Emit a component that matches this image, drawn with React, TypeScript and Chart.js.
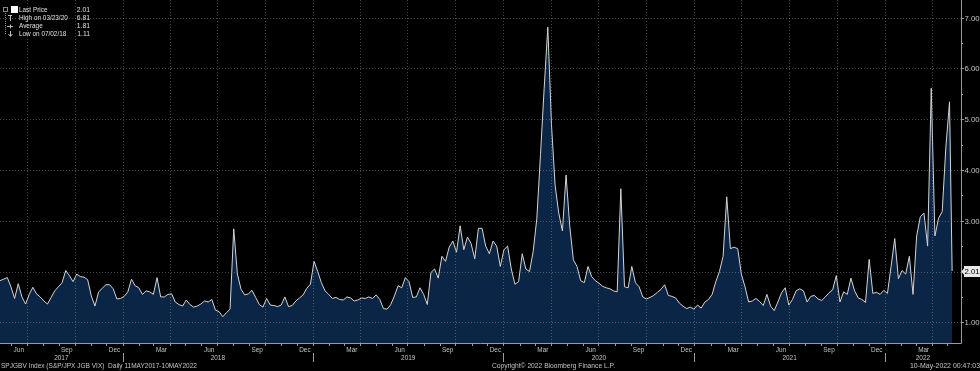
import React, { useEffect, useRef } from 'react';
import { Chart, registerables } from 'chart.js';

Chart.register(...registerables);

// ---------- data (weekly closes, starting 11 May 2017) ----------
const seriesStart = '2017-05-11';
const weeklyValues: number[] = [
  1.82, 1.85, 1.88, 1.70, 1.47, 1.76, 1.50, 1.36, 1.55, 1.69,
  1.56, 1.50, 1.42, 1.36, 1.49, 1.62, 1.70, 1.78, 2.02, 1.92,
  1.80, 1.95, 1.90, 1.89, 1.84, 1.52, 1.32, 1.60, 1.67, 1.74,
  1.74, 1.66, 1.46, 1.47, 1.51, 1.60, 1.85, 1.72, 1.68, 1.55,
  1.62, 1.60, 1.55, 1.88, 1.50, 1.50, 1.55, 1.56, 1.40, 1.35,
  1.32, 1.44, 1.35, 1.30, 1.32, 1.36, 1.42, 1.40, 1.45, 1.24,
  1.21, 1.11, 1.19, 1.26, 2.84, 1.95, 1.65, 1.54, 1.56, 1.63,
  1.49, 1.35, 1.30, 1.47, 1.34, 1.33, 1.31, 1.34, 1.50, 1.31,
  1.33, 1.42, 1.48, 1.54, 1.67, 1.75, 2.20, 2.00, 1.78, 1.62,
  1.55, 1.47, 1.49, 1.45, 1.44, 1.50, 1.48, 1.42, 1.44, 1.48,
  1.47, 1.50, 1.47, 1.54, 1.45, 1.27, 1.26, 1.35, 1.52, 1.72,
  1.68, 1.88, 1.80, 1.49, 1.50, 1.68, 1.55, 1.35, 1.98, 2.05,
  1.87, 2.30, 2.20, 2.48, 2.60, 2.38, 2.90, 2.43, 2.68, 2.55,
  2.25, 2.85, 2.85, 2.50, 2.35, 2.60, 2.50, 2.10, 2.43, 2.50,
  2.05, 1.75, 1.80, 2.35, 2.05, 2.00, 2.40, 3.05, 4.30, 5.60,
  6.81, 4.90, 3.70, 3.15, 2.80, 3.90, 2.90, 2.23, 2.10, 1.82,
  1.78, 2.10, 1.90, 1.82, 1.77, 1.71, 1.68, 1.66, 1.62, 1.60,
  3.63, 1.70, 1.68, 2.10, 1.78, 1.70, 1.50, 1.46, 1.49, 1.53,
  1.59, 1.65, 1.74, 1.53, 1.51, 1.48, 1.38, 1.32, 1.27, 1.30,
  1.26, 1.34, 1.28, 1.40, 1.45, 1.55, 1.80, 2.00, 2.30, 3.47,
  2.45, 2.48, 2.45, 1.95, 1.70, 1.40, 1.42, 1.47, 1.41, 1.33,
  1.55, 1.32, 1.23, 1.40, 1.58, 1.68, 1.34, 1.45, 1.62, 1.66,
  1.62, 1.40, 1.51, 1.53, 1.46, 1.43, 1.50, 1.58, 1.64, 1.92,
  1.40, 1.60, 1.55, 1.87, 1.62, 1.48, 1.45, 1.39, 2.24, 1.57,
  1.59, 1.55, 1.63, 1.57, 2.10, 2.65, 1.86, 2.02, 1.95, 2.30,
  1.55, 2.70, 3.08, 3.15, 2.50, 5.61, 2.70, 3.05, 3.18, 4.45,
  5.34,
];
const lastDate = '2022-05-10';
const lastPrice = 2.01;

const yTickValues = [1, 2, 3, 4, 5, 6, 7];
const yMinorValues = [1.5, 2.5, 3.5, 4.5, 5.5, 6.5];
const yMin = 0.593;
const yMax = 7.345;
const xMaxDate = '2022-05-27';

const monthLabels = ['Jan', 'Feb', 'Mar', 'Apr', 'May', 'Jun', 'Jul', 'Aug', 'Sep', 'Oct', 'Nov', 'Dec'];
const labelledMonths = [2, 5, 8, 11]; // Mar, Jun, Sep, Dec
const years = [2017, 2018, 2019, 2020, 2021, 2022];

const legendRows = [
  { label: 'Last Price', value: '2.01' },
  { label: 'High on 03/23/20', value: '6.81' },
  { label: 'Average', value: '1.81' },
  { label: 'Low on 07/02/18', value: '1.11' },
];
const footerLeft = 'SPJGBV Index (S&P/JPX JGB VIX)  Daily 11MAY2017-10MAY2022';
const footerCenter = 'Copyright\u00A9 2022 Bloomberg Finance L.P.';
const footerRight = '10-May-2022 00:47:03';

// ---------- helpers ----------
const DAY_MS = 86400000;
const startMs = Date.parse(seriesStart + 'T00:00:00Z');
const dayOf = (iso: string) => (Date.parse(iso + 'T00:00:00Z') - startMs) / DAY_MS;
const dayOfYMD = (y: number, m: number, d: number) => (Date.UTC(y, m, d) - startMs) / DAY_MS;

const FAMILY = '"Liberation Sans", Arial, sans-serif';
const TXT = '#c4c4c4';

// draw text horizontally condensed (Bloomberg terminal font is narrow)
function condText(ctx: CanvasRenderingContext2D, text: string, x: number, y: number, sx: number, align: CanvasTextAlign) {
  ctx.save();
  ctx.translate(x, y);
  ctx.scale(sx, 1);
  ctx.textAlign = align;
  ctx.fillText(text, 0, 0);
  ctx.restore();
}
// draw text squeezed to a given width
function fitText(ctx: CanvasRenderingContext2D, text: string, x: number, y: number, width: number, align: CanvasTextAlign) {
  const w = ctx.measureText(text).width;
  condText(ctx, text, x, y, Math.min(1, width / w), align);
}

const bbgPlugin = {
  id: 'bbgDecor',
  beforeDraw(chart: any) {
    const ctx = chart.ctx;
    ctx.save();
    ctx.fillStyle = '#000000';
    ctx.fillRect(0, 0, chart.width, chart.height);
    ctx.restore();
  },
  afterDatasetsDraw(chart: any) {
    const ctx = chart.ctx;
    const { left, right, top, bottom } = chart.chartArea;
    const xs = chart.scales.x;
    const ys = chart.scales.y;
    const endDay = xs.max;
    ctx.save();
    ctx.strokeStyle = 'rgba(150,150,150,0.45)';
    ctx.lineWidth = 1;
    ctx.setLineDash([1, 2]);
    yTickValues.forEach((v) => {
      const py = Math.round(ys.getPixelForValue(v)) + 0.5;
      ctx.beginPath();
      ctx.moveTo(left, py);
      ctx.lineTo(right, py);
      ctx.stroke();
    });
    years.forEach((y) => {
      [0, 3, 6, 9].forEach((m) => {
        const d = dayOfYMD(y, m, 1);
        if (d <= 0 || d >= endDay) return;
        const px = Math.round(xs.getPixelForValue(d)) + 0.5;
        ctx.beginPath();
        ctx.moveTo(px, top);
        ctx.lineTo(px, bottom);
        ctx.stroke();
      });
    });
    ctx.restore();
  },
  afterDraw(chart: any) {
    const ctx = chart.ctx;
    const { left, right, top, bottom } = chart.chartArea;
    const xs = chart.scales.x;
    const ys = chart.scales.y;
    const endDay = xs.max;
    ctx.save();
    // axis lines
    ctx.strokeStyle = '#9a9a9a';
    ctx.lineWidth = 1;
    ctx.beginPath();
    ctx.moveTo(right + 0.5, top);
    ctx.lineTo(right + 0.5, bottom + 0.5);
    ctx.lineTo(left, bottom + 0.5);
    ctx.stroke();

    // right axis ticks & labels
    ctx.font = '7.8px ' + FAMILY;
    ctx.fillStyle = TXT;
    ctx.textAlign = 'left';
    ctx.textBaseline = 'middle';
    yTickValues.forEach((v) => {
      const py = Math.round(ys.getPixelForValue(v)) + 0.5;
      ctx.beginPath();
      ctx.moveTo(right, py);
      ctx.lineTo(right + 3, py);
      ctx.stroke();
      ctx.fillText(v.toFixed(2), right + 3.5, py + 0.5);
    });
    yMinorValues.forEach((v) => {
      const py = Math.round(ys.getPixelForValue(v)) + 0.5;
      ctx.beginPath();
      ctx.moveTo(right, py);
      ctx.lineTo(right + 2, py);
      ctx.stroke();
    });
    // last price marker
    const lp = Math.round(ys.getPixelForValue(lastPrice)) + 0.5;
    ctx.fillStyle = '#e8e8e8';
    ctx.fillRect(right + 3, lp - 5.5, 17, 11);
    ctx.beginPath();
    ctx.moveTo(right + 0.5, lp);
    ctx.lineTo(right + 3.5, lp - 4);
    ctx.lineTo(right + 3.5, lp + 4);
    ctx.closePath();
    ctx.fill();
    ctx.fillStyle = '#000';
    ctx.fillText(lastPrice.toFixed(2), right + 3.5, lp + 0.5);

    // bottom axis: month ticks, labels, year labels, separators
    ctx.font = '7px ' + FAMILY;
    ctx.fillStyle = TXT;
    ctx.textAlign = 'center';
    ctx.textBaseline = 'middle';
    years.forEach((y) => {
      for (let m = 0; m < 12; m++) {
        const d0 = dayOfYMD(y, m, 1);
        const d1 = dayOfYMD(y, m + 1, 1);
        if (d0 > 0 && d0 < endDay) {
          const px = Math.round(xs.getPixelForValue(d0)) + 0.5;
          ctx.beginPath();
          ctx.moveTo(px, bottom + 1);
          ctx.lineTo(px, bottom + 3);
          ctx.stroke();
        }
        if (labelledMonths.includes(m) && d0 >= 0 && d1 <= endDay + 20) {
          const mid = xs.getPixelForValue((d0 + d1) / 2);
          condText(ctx, monthLabels[m], mid, bottom + 7, 0.92, 'center');
        }
      }
      const ys0 = Math.max(0, dayOfYMD(y, 0, 1));
      const ys1 = Math.min(endDay, dayOfYMD(y + 1, 0, 1));
      const midY = (xs.getPixelForValue(ys0) + xs.getPixelForValue(ys1)) / 2;
      condText(ctx, String(y), midY, bottom + 15, 0.92, 'center');
      const jan = dayOfYMD(y, 0, 1);
      if (jan > 0 && jan < endDay) {
        const px = Math.round(xs.getPixelForValue(jan)) + 0.5;
        ctx.beginPath();
        ctx.moveTo(px, bottom + 10);
        ctx.lineTo(px, bottom + 19);
        ctx.stroke();
      }
    });

    // footer
    ctx.font = '7.4px ' + FAMILY;
    ctx.textBaseline = 'middle';
    fitText(ctx, footerLeft, 1, 366, 196, 'left');
    fitText(ctx, footerCenter, 492, 366, 123, 'left');
    fitText(ctx, footerRight, chart.width, 366, 70, 'right');

    // legend
    ctx.font = '8px ' + FAMILY;
    const rowY = [10, 18, 26, 34];
    ctx.strokeStyle = '#8a8a8a';
    ctx.setLineDash([1, 1]);
    ctx.beginPath();
    ctx.moveTo(5.5, 13);
    ctx.lineTo(5.5, 34);
    ctx.stroke();
    ctx.setLineDash([]);
    ctx.strokeRect(3.5, 7.5, 4, 4);
    ctx.fillStyle = '#ffffff';
    ctx.fillRect(11, 6, 7, 7);
    ctx.strokeStyle = '#bbbbbb';
    ctx.beginPath();
    // high icon
    ctx.moveTo(8, 15.5); ctx.lineTo(12, 15.5);
    ctx.moveTo(10.5, 15.5); ctx.lineTo(10.5, 21);
    // average icon
    ctx.moveTo(7, 26.5); ctx.lineTo(13, 26.5);
    ctx.moveTo(10.5, 24.5); ctx.lineTo(10.5, 28.5);
    // low icon
    ctx.moveTo(10.5, 31); ctx.lineTo(10.5, 36);
    ctx.moveTo(8.5, 34); ctx.lineTo(10.5, 36.5); ctx.lineTo(12.5, 34);
    ctx.stroke();
    ctx.fillStyle = '#e0e0e0';
    legendRows.forEach((r, i) => {
      condText(ctx, r.label, 19, rowY[i], 0.8, 'left');
      condText(ctx, r.value, 90, rowY[i], 0.85, 'right');
    });
    ctx.restore();
  },
};

export default function App() {
  const canvasRef = useRef<HTMLCanvasElement | null>(null);
  useEffect(() => {
    document.body.style.margin = '0';
    document.body.style.background = '#000';
    const canvas = canvasRef.current;
    if (!canvas) return;
    const points = weeklyValues.map((v, i) => ({ x: i * 7, y: v }));
    points.push({ x: dayOf(lastDate), y: lastPrice });
    const chart = new Chart(canvas, {
      type: 'line',
      data: {
        datasets: [
          {
            label: 'Last Price',
            data: points,
            borderColor: '#d4d4d4',
            borderWidth: 1,
            backgroundColor: '#0b2546',
            fill: 'start',
            pointRadius: 0,
            tension: 0,
          },
        ],
      },
      options: {
        animation: false,
        responsive: false,
        maintainAspectRatio: false,
        events: [],
        layout: { padding: { left: 0, top: 0, right: 19, bottom: 28 } },
        plugins: { legend: { display: false }, tooltip: { enabled: false } },
        scales: {
          x: { type: 'linear', display: false, min: 0, max: dayOf(xMaxDate) },
          y: { type: 'linear', display: false, min: yMin, max: yMax },
        },
      },
      plugins: [bbgPlugin],
    });
    return () => chart.destroy();
  }, []);
  return (
    <div style={{ width: 980, height: 371, background: '#000' }}>
      <canvas ref={canvasRef} width={980} height={371} style={{ display: 'block' }} />
    </div>
  );
}
